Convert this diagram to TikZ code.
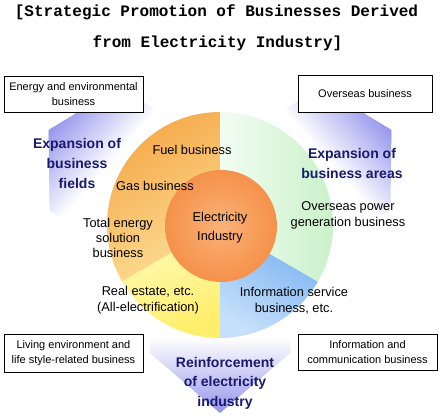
\documentclass[tikz,border=0pt]{standalone}
\usepackage{fontspec}
\setmainfont{Liberation Sans}
\newfontfamily\titlefont{Liberation Mono}
\definecolor{lav}{RGB}{145,145,236}
\definecolor{navy}{RGB}{25,25,110}
\definecolor{ordark}{RGB}{245,168,72}
\definecolor{orlight}{RGB}{253,222,150}
\definecolor{yelight}{RGB}{255,250,185}
\definecolor{yedeep}{RGB}{255,238,105}
\definecolor{bldark}{RGB}{118,176,240}
\definecolor{bllight}{RGB}{198,224,250}
\definecolor{grlight}{RGB}{242,252,242}
\definecolor{grdeep}{RGB}{196,240,196}
\pgfdeclareradialshading{ballorange}{\pgfpoint{0bp}{0bp}}{rgb(0bp)=(0.98,0.70,0.48); rgb(15bp)=(0.97,0.62,0.36); rgb(50bp)=(0.94,0.44,0.12)}
\tikzset{
  lbl/.style={font=\fontsize{12.8}{16}\selectfont, align=center, inner sep=0pt},
  bluelbl/.style={font=\fontsize{14}{20}\selectfont\bfseries, text=navy, align=center, inner sep=0pt},
  boxtxt/.style={draw=black, line width=0.8pt, fill=white, font=\fontsize{11}{15}\selectfont, align=center, inner sep=0pt},
  titletxt/.style={font=\titlefont\fontsize{16}{20}\selectfont\bfseries, inner sep=0pt},
  pics/bigarrow/.style args={#1/#2/#3/#4/#5/#6}{code={
    \begin{scope}[rotate=#1]
      \clip (-70,60) -- (-70,#3) -- (0,#2) -- (70,#3) -- (70,60) -- cycle;
      \begin{scope}[rotate=#4]
      \foreach \i in {0,...,55}{
        \pgfmathsetmacro\d{#5+\i*2}
        \pgfmathsetmacro\p{max(0,min(100,(\d-#5)/(#6-#5)*100))}
        \fill[lav!\p!white] (-160,\d) -- (160,\d) -- (160,\d+2.6) -- (-160,\d+2.6) -- cycle;
      }
      \end{scope}
    \end{scope}
  }}
}
\begin{document}
\begin{tikzpicture}[x=1pt,y=1pt]
\useasboundingbox (0,0) rectangle (441,415);
\fill[white] (0,0) rectangle (441,415);
\coordinate (C) at (220,190);
% arrows behind the ring
\pic at (C) {bigarrow={180/188/128/0/112/190}};
\pic at (C) {bigarrow={61/196/156/-12/122/194}};
\pic at (C) {bigarrow={-61/196/156/12/122/194}};
% ring sectors
\shade[left color=ordark, right color=orlight, shading angle=30] (C) -- ++(90:113) arc (90:210:113) -- cycle;
\shade[left color=yelight, right color=yedeep, shading angle=20] (C) -- ++(210:113) arc (210:270:113) -- cycle;
\shade[left color=bldark, right color=bllight, shading angle=-30] (C) -- ++(270:113) arc (270:330:113) -- cycle;
\shade[left color=grlight, right color=grdeep] (C) -- ++(-30:113) arc (-30:90:113) -- cycle;
% core
\shade[shading=ballorange] (221,189) circle (56);
% boxes
\node[boxtxt, minimum width=139pt, minimum height=36pt] (b1) at (73.5,321) {Energy and environmental\\business};
\node[boxtxt, minimum width=134pt, minimum height=37pt] (b2) at (365,321.5) {Overseas business};
\node[boxtxt, minimum width=139pt, minimum height=38pt] (b3) at (73.5,62) {Living environment and\\life style-related business};
\node[boxtxt, minimum width=139pt, minimum height=36pt] (b4) at (367.5,63) {Information and\\communication business};
% title
\node[titletxt] (t1) at (216.5,403) {[Strategic Promotion of Businesses Derived};
\node[titletxt] (t2) at (217.5,372) {from Electricity Industry]};
% labels
\node[lbl] (fuel) at (192,265) {Fuel business};
\node[lbl] (gas) at (155,229) {Gas business};
\node[lbl, font=\fontsize{12.8}{15}\selectfont] (tot) at (118,177) {Total energy\\solution\\business};
\node[lbl, font=\fontsize{12.8}{19}\selectfont] (elec) at (220,187.5) {Electricity\\Industry};
\node[lbl] (ovp) at (348,200) {Overseas power\\generation business};
\node[lbl] (real) at (148,114.5) {Real estate, etc.\\(All-electrification)};
\node[lbl] (info) at (294,114) {Information service\\business, etc.};
\node[bluelbl] (ef) at (77,252) {Expansion of\\business\\fields};
\node[bluelbl] (ea) at (352,252) {Expansion of\\business areas};
\node[bluelbl, font=\fontsize{14}{19.5}\selectfont\bfseries] (re) at (225,32) {Reinforcement\\of electricity\\industry};
\end{tikzpicture}
\end{document}
